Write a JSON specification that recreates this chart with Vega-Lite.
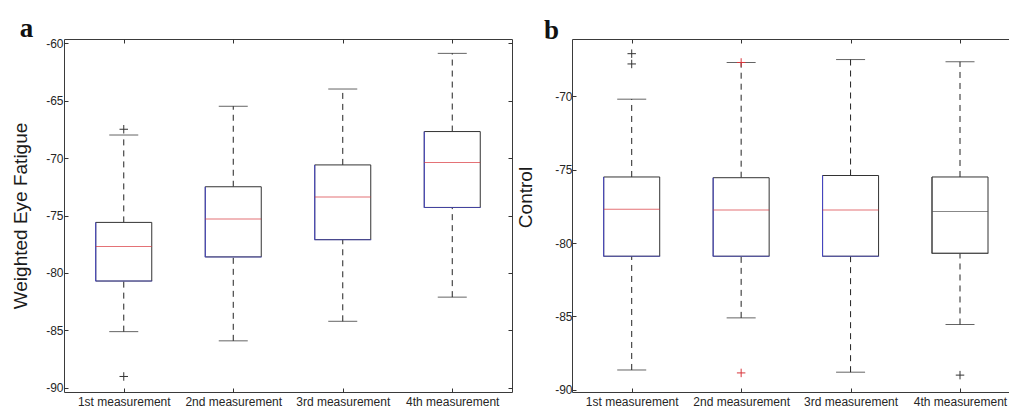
{
  "$schema": "https://vega.github.io/schema/vega-lite/v6.json",
  "background": "white",
  "padding": {"left": 11, "top": 14, "right": 0, "bottom": 0},
  "spacing": 3,
  "datasets": {
    "boxA": [
      {"m": 1, "lower": -85.1, "q1": -80.7, "median": -77.7, "q3": -75.6, "upper": -68.0, "kind": "standard"},
      {"m": 2, "lower": -85.9, "q1": -78.6, "median": -75.3, "q3": -72.5, "upper": -65.5, "kind": "standard"},
      {"m": 3, "lower": -84.2, "q1": -77.1, "median": -73.4, "q3": -70.6, "upper": -64.0, "kind": "standard"},
      {"m": 4, "lower": -82.1, "q1": -74.3, "median": -70.4, "q3": -67.7, "upper": -60.9, "kind": "standard"}
    ],
    "outA": [
      {"m": 1, "value": -67.5, "flag": "dark"},
      {"m": 1, "value": -89.0, "flag": "dark"}
    ],
    "boxB": [
      {"m": 1, "lower": -88.65, "q1": -80.9, "median": -77.7, "q3": -75.5, "upper": -70.2, "kind": "standard"},
      {"m": 2, "lower": -85.1, "q1": -80.9, "median": -77.75, "q3": -75.55, "upper": -67.7, "kind": "standard"},
      {"m": 3, "lower": -88.8, "q1": -80.9, "median": -77.75, "q3": -75.4, "upper": -67.5, "kind": "standard"},
      {"m": 4, "lower": -85.55, "q1": -80.7, "median": -77.85, "q3": -75.5, "upper": -67.65, "kind": "alt"}
    ],
    "outB": [
      {"m": 1, "value": -67.1, "flag": "dark"},
      {"m": 1, "value": -67.8, "flag": "dark"},
      {"m": 2, "value": -67.7, "flag": "red"},
      {"m": 2, "value": -88.85, "flag": "red"},
      {"m": 4, "value": -89.0, "flag": "dark"}
    ]
  },
  "hconcat": [
    {
      "width": 448,
      "height": 353,
      "title": {"text": "a", "anchor": "start", "frame": "bounds", "font": "Liberation Serif", "fontSize": 27, "fontWeight": "bold", "color": "#111", "baseline": "alphabetic", "offset": -27, "dx": 8},
      "resolve": {"axis": {"x": "independent", "y": "independent"}},
      "layer": [
        {
          "data": {"name": "boxA"},
          "mark": {"type": "rule", "strokeDash": [6, 5], "color": "#222", "strokeWidth": 1},
          "encoding": {
            "x": {"field": "m", "type": "quantitative", "scale": {"domain": [0.5, 4.5], "nice": false, "zero": false},
                  "axis": {"values": [1, 2, 3, 4], "labelExpr": "['1st measurement','2nd measurement','3rd measurement','4th measurement'][datum.value - 1]", "title": null, "labelPadding": 8, "labelFlush": false, "labelOverlap": false}},
            "y": {"field": "q3", "type": "quantitative", "scale": {"domain": [-90.35, -59.65], "nice": false, "zero": false},
                  "axis": {"values": [-90, -85, -80, -75, -70, -65, -60], "labelExpr": "'' + datum.value", "title": "Weighted Eye Fatigue", "labelPadding": 5, "titlePadding": 15, "labelFlush": false, "labelOverlap": false}},
            "y2": {"field": "upper"}
          }
        },
        {
          "data": {"name": "boxA"},
          "mark": {"type": "rule", "strokeDash": [6, 5], "color": "#222", "strokeWidth": 1},
          "encoding": {
            "x": {"field": "m", "type": "quantitative", "scale": {"domain": [0.5, 4.5], "nice": false, "zero": false},
                  "axis": {"orient": "top", "values": [1, 2, 3, 4], "labels": false, "title": null}},
            "y": {"field": "lower", "type": "quantitative", "scale": {"domain": [-90.35, -59.65], "nice": false, "zero": false},
                  "axis": {"orient": "right", "values": [-90, -85, -80, -75, -70, -65, -60], "labels": false, "title": null}},
            "y2": {"field": "q1"}
          }
        },
        {
          "data": {"name": "boxA"},
          "mark": {"type": "bar", "width": 56, "fill": "white", "stroke": "#333", "strokeWidth": 1},
          "encoding": {
            "x": {"field": "m", "type": "quantitative", "scale": {"domain": [0.5, 4.5], "nice": false, "zero": false}, "axis": null},
            "y": {"field": "q1", "type": "quantitative", "scale": {"domain": [-90.35, -59.65], "nice": false, "zero": false}, "axis": null},
            "y2": {"field": "q3"}
          }
        },
        {
          "data": {"name": "boxA"},
          "mark": {"type": "rule", "xOffset": -28, "strokeWidth": 1},
          "encoding": {
            "x": {"field": "m", "type": "quantitative", "scale": {"domain": [0.5, 4.5], "nice": false, "zero": false}, "axis": null},
            "y": {"field": "q1", "type": "quantitative", "scale": {"domain": [-90.35, -59.65], "nice": false, "zero": false}, "axis": null},
            "y2": {"field": "q3"},
            "color": {"condition": {"test": "datum.kind === 'alt'", "value": "#444"}, "value": "#4646c8"}
          }
        },
        {
          "data": {"name": "boxA"},
          "mark": {"type": "tick", "orient": "horizontal", "size": 57, "thickness": 1},
          "encoding": {
            "x": {"field": "m", "type": "quantitative", "scale": {"domain": [0.5, 4.5], "nice": false, "zero": false}, "axis": null},
            "y": {"field": "q1", "type": "quantitative", "scale": {"domain": [-90.35, -59.65], "nice": false, "zero": false}, "axis": null},
            "color": {"condition": {"test": "datum.kind === 'alt'", "value": "#444"}, "value": "#4646c8"}
          }
        },
        {
          "data": {"name": "boxA"},
          "mark": {"type": "tick", "orient": "horizontal", "size": 56, "thickness": 1},
          "encoding": {
            "x": {"field": "m", "type": "quantitative", "scale": {"domain": [0.5, 4.5], "nice": false, "zero": false}, "axis": null},
            "y": {"field": "median", "type": "quantitative", "scale": {"domain": [-90.35, -59.65], "nice": false, "zero": false}, "axis": null},
            "color": {"condition": {"test": "datum.kind === 'alt'", "value": "#555"}, "value": "#d8363c"}
          }
        },
        {
          "data": {"name": "boxA"},
          "mark": {"type": "tick", "orient": "horizontal", "size": 29, "thickness": 1, "color": "#222"},
          "encoding": {
            "x": {"field": "m", "type": "quantitative", "scale": {"domain": [0.5, 4.5], "nice": false, "zero": false}, "axis": null},
            "y": {"field": "upper", "type": "quantitative", "scale": {"domain": [-90.35, -59.65], "nice": false, "zero": false}, "axis": null}
          }
        },
        {
          "data": {"name": "boxA"},
          "mark": {"type": "tick", "orient": "horizontal", "size": 29, "thickness": 1, "color": "#222"},
          "encoding": {
            "x": {"field": "m", "type": "quantitative", "scale": {"domain": [0.5, 4.5], "nice": false, "zero": false}, "axis": null},
            "y": {"field": "lower", "type": "quantitative", "scale": {"domain": [-90.35, -59.65], "nice": false, "zero": false}, "axis": null}
          }
        },
        {
          "data": {"name": "outA"},
          "mark": {"type": "point", "shape": "M-1,0H1M0,-1V1", "size": 72, "filled": false, "strokeWidth": 1, "opacity": 1},
          "encoding": {
            "x": {"field": "m", "type": "quantitative", "scale": {"domain": [0.5, 4.5], "nice": false, "zero": false}, "axis": null},
            "y": {"field": "value", "type": "quantitative", "scale": {"domain": [-90.35, -59.65], "nice": false, "zero": false}, "axis": null},
            "color": {"condition": {"test": "datum.flag === 'red'", "value": "#d8363c"}, "value": "#333"}
          }
        }
      ]
    },
    {
      "width": 437,
      "height": 353,
      "view": {"stroke": null},
      "title": {"text": "b", "anchor": "start", "frame": "bounds", "font": "Liberation Serif", "fontSize": 27, "fontWeight": "bold", "color": "#111", "baseline": "alphabetic", "offset": -27, "dx": 28},
      "resolve": {"axis": {"x": "independent", "y": "independent"}},
      "layer": [
        {
          "data": {"name": "boxB"},
          "mark": {"type": "rule", "strokeDash": [6, 5], "color": "#222", "strokeWidth": 1},
          "encoding": {
            "x": {"field": "m", "type": "quantitative", "scale": {"domain": [0.5, 4.402], "nice": false, "zero": false},
                  "axis": {"values": [1, 2, 3, 4], "labelExpr": "['1st measurement','2nd measurement','3rd measurement','4th measurement'][datum.value - 1]", "title": null, "labelPadding": 8, "labelFlush": false, "labelOverlap": false, "domain": true, "domainColor": "#3a3a3a", "domainWidth": 1}},
            "y": {"field": "q3", "type": "quantitative", "scale": {"domain": [-90.15, -66.1], "nice": false, "zero": false},
                  "axis": {"values": [-90, -85, -80, -75, -70], "labelExpr": "'' + datum.value", "title": "Control", "labelPadding": 4, "titlePadding": 15, "titleX": -37, "titleY": 158, "labelFlush": false, "labelOverlap": false, "domain": true, "domainColor": "#3a3a3a", "domainWidth": 1}},
            "y2": {"field": "upper"}
          }
        },
        {
          "data": {"name": "boxB"},
          "mark": {"type": "rule", "strokeDash": [6, 5], "color": "#222", "strokeWidth": 1},
          "encoding": {
            "x": {"field": "m", "type": "quantitative", "scale": {"domain": [0.5, 4.402], "nice": false, "zero": false},
                  "axis": {"orient": "top", "values": [1, 2, 3, 4], "labels": false, "title": null, "domain": true, "domainColor": "#3a3a3a", "domainWidth": 1}},
            "y": {"field": "lower", "type": "quantitative", "scale": {"domain": [-90.15, -66.1], "nice": false, "zero": false}, "axis": null},
            "y2": {"field": "q1"}
          }
        },
        {
          "data": {"name": "boxB"},
          "mark": {"type": "bar", "width": 56, "fill": "white", "stroke": "#333", "strokeWidth": 1},
          "encoding": {
            "x": {"field": "m", "type": "quantitative", "scale": {"domain": [0.5, 4.402], "nice": false, "zero": false}, "axis": null},
            "y": {"field": "q1", "type": "quantitative", "scale": {"domain": [-90.15, -66.1], "nice": false, "zero": false}, "axis": null},
            "y2": {"field": "q3"}
          }
        },
        {
          "data": {"name": "boxB"},
          "mark": {"type": "rule", "xOffset": -28, "strokeWidth": 1},
          "encoding": {
            "x": {"field": "m", "type": "quantitative", "scale": {"domain": [0.5, 4.402], "nice": false, "zero": false}, "axis": null},
            "y": {"field": "q1", "type": "quantitative", "scale": {"domain": [-90.15, -66.1], "nice": false, "zero": false}, "axis": null},
            "y2": {"field": "q3"},
            "color": {"condition": {"test": "datum.kind === 'alt'", "value": "#444"}, "value": "#4646c8"}
          }
        },
        {
          "data": {"name": "boxB"},
          "mark": {"type": "tick", "orient": "horizontal", "size": 57, "thickness": 1},
          "encoding": {
            "x": {"field": "m", "type": "quantitative", "scale": {"domain": [0.5, 4.402], "nice": false, "zero": false}, "axis": null},
            "y": {"field": "q1", "type": "quantitative", "scale": {"domain": [-90.15, -66.1], "nice": false, "zero": false}, "axis": null},
            "color": {"condition": {"test": "datum.kind === 'alt'", "value": "#444"}, "value": "#4646c8"}
          }
        },
        {
          "data": {"name": "boxB"},
          "mark": {"type": "tick", "orient": "horizontal", "size": 56, "thickness": 1},
          "encoding": {
            "x": {"field": "m", "type": "quantitative", "scale": {"domain": [0.5, 4.402], "nice": false, "zero": false}, "axis": null},
            "y": {"field": "median", "type": "quantitative", "scale": {"domain": [-90.15, -66.1], "nice": false, "zero": false}, "axis": null},
            "color": {"condition": {"test": "datum.kind === 'alt'", "value": "#555"}, "value": "#d8363c"}
          }
        },
        {
          "data": {"name": "boxB"},
          "mark": {"type": "tick", "orient": "horizontal", "size": 29, "thickness": 1, "color": "#222"},
          "encoding": {
            "x": {"field": "m", "type": "quantitative", "scale": {"domain": [0.5, 4.402], "nice": false, "zero": false}, "axis": null},
            "y": {"field": "upper", "type": "quantitative", "scale": {"domain": [-90.15, -66.1], "nice": false, "zero": false}, "axis": null}
          }
        },
        {
          "data": {"name": "boxB"},
          "mark": {"type": "tick", "orient": "horizontal", "size": 29, "thickness": 1, "color": "#222"},
          "encoding": {
            "x": {"field": "m", "type": "quantitative", "scale": {"domain": [0.5, 4.402], "nice": false, "zero": false}, "axis": null},
            "y": {"field": "lower", "type": "quantitative", "scale": {"domain": [-90.15, -66.1], "nice": false, "zero": false}, "axis": null}
          }
        },
        {
          "data": {"name": "outB"},
          "mark": {"type": "point", "shape": "M-1,0H1M0,-1V1", "size": 72, "filled": false, "strokeWidth": 1, "opacity": 1},
          "encoding": {
            "x": {"field": "m", "type": "quantitative", "scale": {"domain": [0.5, 4.402], "nice": false, "zero": false}, "axis": null},
            "y": {"field": "value", "type": "quantitative", "scale": {"domain": [-90.15, -66.1], "nice": false, "zero": false}, "axis": null},
            "color": {"condition": {"test": "datum.flag === 'red'", "value": "#d8363c"}, "value": "#333"}
          }
        }
      ]
    }
  ],
  "config": {
    "font": "Liberation Sans",
    "view": {"stroke": "#3a3a3a", "strokeWidth": 1},
    "axis": {"grid": false, "domain": false, "tickColor": "#333", "tickSize": -4, "labelFont": "Liberation Sans", "labelFontSize": 12, "labelColor": "#262626", "titleFont": "Liberation Sans", "titleFontSize": 19, "titleFontWeight": "normal", "titleColor": "#1a1a1a"}
  }
}
